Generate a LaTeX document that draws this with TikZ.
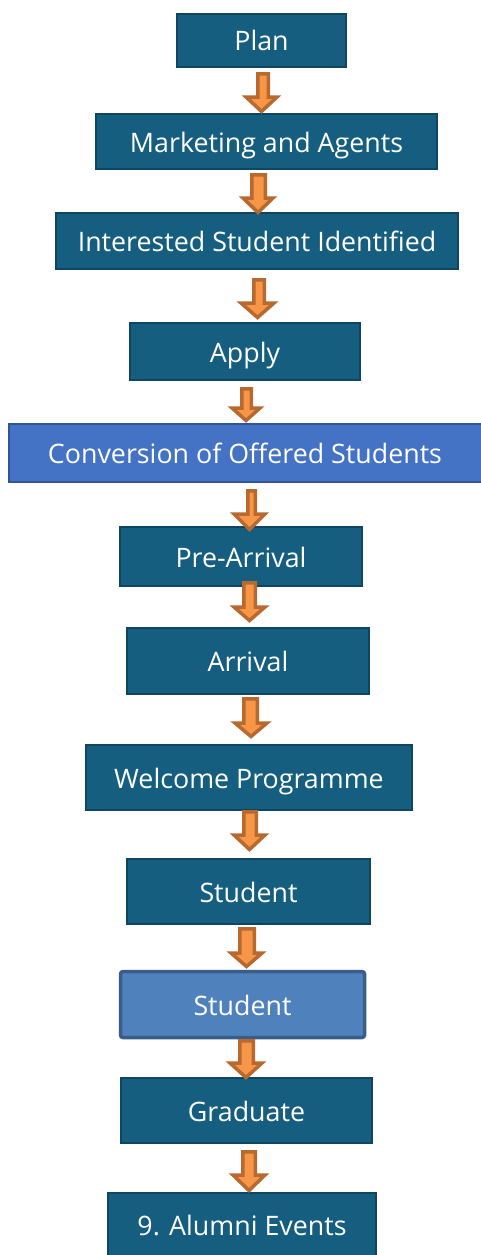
\documentclass[tikz,border=0pt]{standalone}
\usepackage{fontspec}
\setmainfont{Open Sans}
\definecolor{boxfill}{HTML}{165E80}
\definecolor{boxline}{HTML}{0E4562}
\definecolor{convfill}{HTML}{4472C4}
\definecolor{convline}{HTML}{2F5597}
\definecolor{stufill}{HTML}{4F81BD}
\definecolor{stuline}{HTML}{385D8A}
\definecolor{arrfill}{HTML}{F79646}
\definecolor{arrline}{HTML}{B7692F}
\newcommand{\flowarrow}[7]{%
  \draw[flowarr] (#1+1.75,#5+1.75) -- (#2-1.75,#5+1.75) -- (#2-1.75,#6) -- (#4-2,#6) -- ({(#3+#4)/2},#7-2.5) -- (#3+2,#6) -- (#1+1.75,#6) -- cycle;}
\begin{document}
\begin{tikzpicture}[x=1pt,y=-1pt,
  flowbox/.style={rectangle,draw=boxline,fill=boxfill,line width=2pt,text=white,font=\fontsize{26.8}{30}\selectfont,inner sep=0pt,text height=21pt,text depth=0pt},
  convbox/.style={flowbox,draw=convline,fill=convfill},
  stubox/.style={flowbox,draw=stuline,fill=stufill,line width=3.5pt,rounded corners=2.5pt},
  flowarr/.style={draw=arrline,fill=arrfill,line width=3.5pt,line join=miter}]
\useasboundingbox (0,0) rectangle (480,1255);
\node[flowbox,minimum width=169pt,minimum height=53pt] (plan) at (261.5,40.5) {Plan};
\node[flowbox,minimum width=341pt,minimum height=55pt] (mkt) at (266.5,141.5) {Marketing and Agents};
\node[flowbox,minimum width=402pt,minimum height=56pt] (int) at (257,241) {Interested Student Identified};
\node[flowbox,minimum width=230pt,minimum height=57pt] (apply) at (245,351.5) {Apply};
\node[convbox,minimum width=473pt,minimum height=58pt] (conv) at (245,453) {Conversion of Offered Students};
\node[flowbox,minimum width=242pt,minimum height=59pt] (pre) at (241,556.5) {Pre-Arrival};
\node[flowbox,minimum width=242pt,minimum height=66pt] (arr) at (248,661) {Arrival};
\node[flowbox,minimum width=326pt,minimum height=65pt] (wel) at (249,777.5) {Welcome Programme};
\node[flowbox,minimum width=243pt,minimum height=65pt] (stu) at (248.5,891.5) {Student};
\node[stubox,minimum width=244pt,minimum height=66pt] (stutwo) at (242.5,1004.5) {Student};
\node[flowbox,minimum width=251pt,minimum height=65pt] (grad) at (246.5,1110.5) {Graduate};
\node[flowbox,minimum width=268pt,minimum height=64pt] (alum) at (242,1225) {9. Alumni Events};
\flowarrow{256}{270}{244}{279}{72}{97}{114}
\flowarrow{250}{267}{241}{275}{173}{198}{215}
\flowarrow{252}{266}{239}{276}{278}{303}{320}
\flowarrow{240}{253}{230}{262}{387}{408}{423}
\flowarrow{246}{257}{232}{267}{489}{514}{532}
\flowarrow{242}{257}{232}{267}{581}{607}{623}
\flowarrow{242}{259}{233}{269}{697}{723}{739}
\flowarrow{242}{258}{232}{267}{810}{835}{852}
\flowarrow{238}{256}{229}{264}{927}{953}{969}
\flowarrow{238}{255}{228}{264}{1039}{1063}{1080}
\flowarrow{241}{257}{231}{267}{1150}{1175}{1193}
\end{tikzpicture}
\end{document}
